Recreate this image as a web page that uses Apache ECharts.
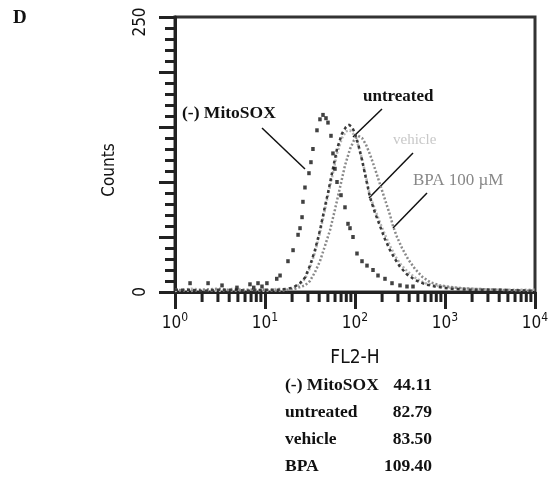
<!DOCTYPE html>
<html>
<head>
<meta charset="utf-8">
<script src="https://cdn.jsdelivr.net/npm/echarts@6/dist/echarts.min.js"></script>
<style>html,body{margin:0;padding:0;background:#fff;}#c{width:555px;height:479px;}</style>
</head>
<body>
<div id="c"></div>
<script>
// ---- data (FL2-H value, counts) ----
const xTickExponents = ['0', '1', '2', '3', '4'];
const yTickLabels = [0, 250];
const xMinorTicks = [2,3,4,5,6,7,8,9,20,30,40,50,60,70,80,90,200,300,400,500,600,700,800,900,2000,3000,4000,5000,6000,7000,8000,9000];

const mitosox = [[1.47,8],[2.33,8],[3.33,6],[4.88,4],[6.81,7],[7.5,4],[8.36,8],[9.26,5],[10.5,8],[13.5,12],[14.7,15],[18.0,28],[20.5,38],[23.3,52],[24.5,58],[25.8,68],[26.4,82],[27.8,95],[30.8,108],[32.4,118],[34.1,130],[37.8,147],[40.8,157],[44.1,161],[47.6,158],[50.1,154],[54.1,142],[56.9,126],[59.9,112],[63.1,100],[69.9,88],[77.4,77],[83.6,62],[88.0,58],[95.0,50],[105.2,35],[119.6,28],[135.9,24],[158.5,20],[180.1,15],[215.4,12],[257.7,8],[316.2,6],[378.2,5],[441,5]];

const untreated = [[1,2],[1.5,2],[2,1],[3,2],[4.5,2],[7,1],[10,2],[14,2],[18,3],[20.5,4],[24.5,8],[27.8,13],[31.6,24],[35.9,38],[40.8,56],[46.4,78],[50.1,90],[55.5,108],[63.1,130],[71.7,144],[79.4,150],[85.8,152],[92.6,150],[100,144],[108,135],[119.6,120],[132.5,103],[146.8,86],[166.8,72],[189.6,60],[215.4,48],[244.9,38],[278.3,30],[316.2,23],[378,16],[464,11],[600,7],[774,5],[1136,3],[1896,2],[4084,2],[10000,1]];

const vehicle = [[1,1],[1.5,3],[2,2],[3,1],[4.5,3],[7,2],[10,1],[14,3],[18,2],[20.5,3],[24.5,7],[27.8,12],[31.6,22],[35.9,36],[40.8,54],[46.4,75],[50.1,88],[55.5,104],[63.1,126],[71.7,140],[79.4,146],[88.0,147],[92.6,146],[100,142],[108,134],[119.6,121],[132.5,105],[146.8,87],[166.8,75],[189.6,63],[215.4,52],[244.9,42],[278.3,33],[316.2,26],[378,19],[464,13],[600,8],[774,6],[1136,4],[1896,3],[4084,2],[10000,2]];

const bpa = [[1,2],[1.5,1],[2,2],[3,3],[4.5,1],[7,2],[10,2],[14,1],[18,2],[21.5,3],[27.8,6],[31.6,10],[35.9,18],[40.8,28],[46.4,42],[52.7,56],[59.9,75],[68.1,95],[77.4,115],[88.0,130],[97.5,138],[108,142],[119.6,140],[132.5,134],[146.8,125],[166.8,112],[189.6,98],[215.4,84],[244.9,70],[264.3,60],[292.9,50],[333,40],[388,30],[464,21],[555,14],[681,9],[880,6],[1292,4],[1896,3],[4084,2],[10000,1]];

const tableNames = ['(-) MitoSOX', 'untreated', 'vehicle', 'BPA'];
const tableValues = ['44.11', '82.79', '83.50', '109.40'];

const sans = "'Liberation Sans Narrow','DejaVu Sans Condensed','Liberation Sans',sans-serif";
const serif = "'Liberation Serif','DejaVu Serif',serif";

const chart = echarts.init(document.getElementById('c'), null, {renderer: 'canvas'});

const graphics = [
  {type:'text', style:{text:'D', x:13, y:18, font:'bold 19px ' + serif, fill:'#111', textVerticalAlign:'middle'}},
  {type:'text', rotation: Math.PI/2, x:110, y:170, style:{text:'Counts', x:0, y:0, font:'17px ' + sans, fill:'#111', textAlign:'center', textVerticalAlign:'middle'}},
  {type:'text', style:{text:'FL2-H', x:355, y:358, font:'19px ' + sans, fill:'#111', textAlign:'center', textVerticalAlign:'middle'}},
  // annotations
  {type:'text', style:{text:'(-) MitoSOX', x:182, y:113, font:'bold 17.5px ' + serif, fill:'#111', textVerticalAlign:'middle'}},
  {type:'line', shape:{x1:262, y1:128, x2:305, y2:169}, style:{stroke:'#111', lineWidth:1.5}},
  {type:'text', style:{text:'untreated', x:363, y:97, font:'bold 17px ' + serif, fill:'#111', textVerticalAlign:'middle'}},
  {type:'line', shape:{x1:382, y1:109, x2:353, y2:137}, style:{stroke:'#111', lineWidth:1.5}},
  {type:'text', style:{text:'vehicle', x:393, y:140, font:'15px ' + serif, fill:'#c8c8c8', textVerticalAlign:'middle'}},
  {type:'line', shape:{x1:413, y1:153, x2:369, y2:198}, style:{stroke:'#111', lineWidth:1.5}},
  {type:'text', style:{text:'BPA 100 µM', x:413, y:181, font:'17px ' + serif, fill:'#888', textVerticalAlign:'middle'}},
  {type:'line', shape:{x1:427, y1:193, x2:393, y2:228}, style:{stroke:'#111', lineWidth:1.5}}
];
const rowY = [385, 412, 439, 466];
tableNames.forEach((n, i) => {
  graphics.push({type:'text', style:{text:n, x:285, y:rowY[i], font:'bold 17.5px ' + serif, fill:'#111', textVerticalAlign:'middle'}});
  graphics.push({type:'text', style:{text:tableValues[i], x:432, y:rowY[i], font:'bold 17.5px ' + serif, fill:'#111', textAlign:'right', textVerticalAlign:'middle'}});
});

chart.setOption({
  animation: false,
  backgroundColor: '#fff',
  grid: {left: 175, right: 20, top: 17, bottom: 187, show: true, borderColor: '#333', borderWidth: 3},
  xAxis: {
    type: 'log', logBase: 10, min: 1, max: 10000,
    axisLine: {show: true, lineStyle: {color: '#222', width: 3}},
    axisTick: {show: true, length: 17, lineStyle: {color: '#222', width: 3}},
    splitLine: {show: false},
    axisLabel: {
      margin: 20,
      formatter: function (v) {
        const e = Math.round(Math.log10(v));
        return '{b|10}{s|' + xTickExponents[e] + '}';
      },
      rich: {
        b: {fontFamily: sans, fontSize: 17, color: '#111', verticalAlign: 'bottom', lineHeight: 20},
        s: {fontFamily: sans, fontSize: 12, color: '#111', verticalAlign: 'top', padding: [0,0,10,0], lineHeight: 12}
      }
    }
  },
  yAxis: {
    type: 'value', min: 0, max: 250, interval: 50,
    axisLine: {show: true, lineStyle: {color: '#222', width: 3}},
    axisTick: {show: true, length: 16, lineStyle: {color: '#222', width: 3}},
    minorTick: {show: true, splitNumber: 5, length: 10, lineStyle: {color: '#222', width: 3}},
    splitLine: {show: false},
    axisLabel: {
      rotate: 90, margin: 26,
      fontFamily: sans, fontSize: 17, color: '#111',
      formatter: function (v) {
        if (yTickLabels.indexOf(v) < 0) return '';
        return v === 250 ? '{t|' + v + '}' : String(v);
      },
      rich: {t: {fontFamily: sans, fontSize: 17, color: '#111', padding: [0, 10, 0, 0]}}
    }
  },
  series: [
    {name: 'vehicle', type: 'line', data: vehicle, showSymbol: false, symbol: 'none',
      lineStyle: {color: '#b4b4b4', width: 2.5, type: [2, 2]}, z: 2},
    {name: 'BPA', type: 'line', data: bpa, showSymbol: false, symbol: 'none',
      lineStyle: {color: '#8a8a8a', width: 2.5, type: [2, 2]}, z: 3},
    {name: 'untreated', type: 'line', data: untreated, showSymbol: false, symbol: 'none',
      lineStyle: {color: '#3a3a3a', width: 2.5, type: [3, 3]}, z: 4},
    {name: '(-) MitoSOX', type: 'scatter', data: mitosox, symbol: 'rect', symbolSize: [3.5, 4],
      itemStyle: {color: '#111'}, z: 5},
    {name: 'minorTicks', type: 'custom', data: xMinorTicks.map(v => [v, 0]), encode: {x: 0, y: 1}, clip: false, silent: true, z: 6,
      renderItem: function (params, api) {
        const p = api.coord([api.value(0), 0]);
        return {type: 'line', shape: {x1: p[0], y1: p[1], x2: p[0], y2: p[1] + 10}, style: {stroke: '#222', lineWidth: 3}};
      }}
  ],
  graphic: graphics
});
</script>
</body>
</html>
